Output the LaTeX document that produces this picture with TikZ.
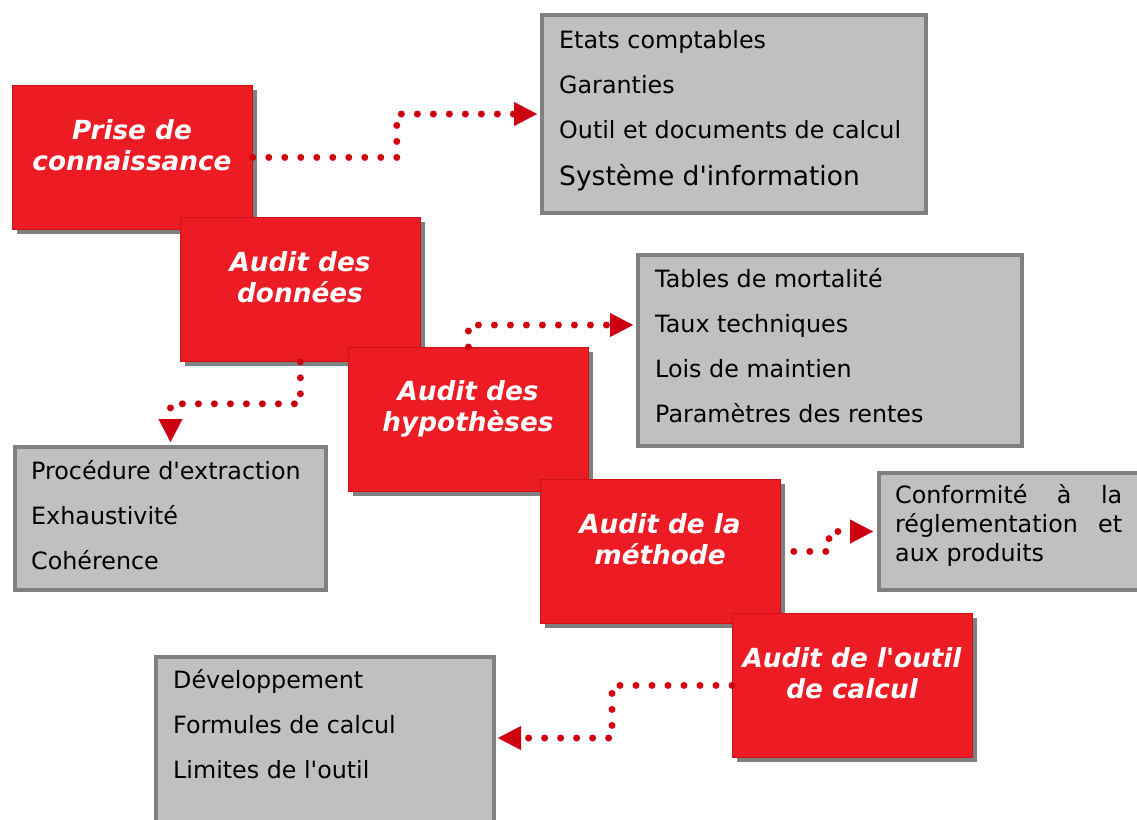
\documentclass[tikz,border=0pt]{standalone}
\usepackage{fontspec}
\setmainfont{DejaVu Sans}
\usetikzlibrary{arrows.meta,shadows}
\definecolor{boxred}{HTML}{ED1C24}
\definecolor{boxredline}{HTML}{D0101A}
\definecolor{conred}{HTML}{CC0010}
\definecolor{panelgray}{HTML}{C0C0C0}
\definecolor{panelline}{HTML}{808080}
\definecolor{shadowgray}{HTML}{808080}
\newcommand{\apo}{\textquotesingle}
\tikzset{
  redbox/.style={rectangle, anchor=north west, fill=boxred, draw=boxredline, line width=0.8pt,
    minimum width=240pt, minimum height=144pt, inner sep=0pt,
    drop shadow={shadow xshift=5pt, shadow yshift=-5pt, fill=shadowgray, opacity=1}},
  redtext/.style={anchor=base, inner sep=0pt, text=white, font=\fontsize{26.3}{31}\selectfont\bfseries\itshape},
  panel/.style={rectangle, anchor=north west, fill=panelgray, draw=panelline, line width=4pt, inner sep=0pt},
  paneltext/.style={anchor=base west, inner sep=0pt, text=black, font=\fontsize{23.8}{45}\selectfont},
  dotlink/.style={draw=conred, line width=7pt, line cap=round, dash pattern=on 0pt off 16pt,
    -{Triangle[length=23pt,width=24pt,line width=0.1pt,fill=conred]}},
}
\begin{document}
\begin{tikzpicture}[x=1pt,y=-1pt]
\useasboundingbox (0,0) rectangle (1137,819);
\clip (0,0) rectangle (1137,819);

% red step boxes
\node[redbox] (p1) at (12,85) {};
\node[redtext] (p1t) at (132,139) {\parbox[t]{236pt}{\centering Prise de\\connaissance}};
\node[redbox] (p2) at (180,217) {};
\node[redtext] (p2t) at (300,271) {\parbox[t]{236pt}{\centering Audit des\\données}};
\node[redbox] (p3) at (348,347) {};
\node[redtext] (p3t) at (468,400) {\parbox[t]{236pt}{\centering Audit des\\hypothèses}};
\node[redbox] (p4) at (540,479) {};
\node[redtext] (p4t) at (660,533) {\parbox[t]{236pt}{\centering Audit de la\\méthode}};
\node[redbox] (p5) at (732,613) {};
\node[redtext] (p5t) at (852,667) {\parbox[t]{236pt}{\centering Audit de l\apo outil\\de calcul}};

% grey panels
\node[panel, minimum width=384pt, minimum height=198pt] (pA) at (540,13) {};
\node[paneltext] (tA) at (559,48) {\parbox[t]{360pt}{\raggedright Etats comptables\\Garanties\\Outil et documents de calcul\\[2pt]{\fontsize{26.5}{45}\selectfont Système d\apo information}}};

\node[panel, minimum width=384pt, minimum height=191pt] (pB) at (636,253) {};
\node[paneltext] (tB) at (655,287) {\parbox[t]{360pt}{\raggedright Tables de mortalité\\Taux techniques\\Lois de maintien\\Paramètres des rentes}};

\node[panel, minimum width=311pt, minimum height=143pt] (pC) at (13,445) {};
\node[paneltext] (tC) at (31,479) {\parbox[t]{290pt}{\raggedright Procédure d\apo extraction\\Exhaustivité\\Cohérence}};

\node[panel, minimum width=280pt, minimum height=117pt] (pD) at (877,471) {};
\node[paneltext, font=\fontsize{23.8}{29}\selectfont] (tD) at (895,503) {\parbox[t]{227pt}{Conformité\hfill à\hfill la\\réglementation\hfill et\\aux produits}};

\node[panel, minimum width=338pt, minimum height=180pt] (pE) at (154,655) {};
\node[paneltext] (tE) at (173,688) {\parbox[t]{300pt}{\raggedright Développement\\Formules de calcul\\Limites de l\apo outil}};

% dotted connectors
\draw[dotlink] (p1.east) -- ++(144,0) |- ([xshift=-3pt]pA.west);
\draw[dotlink] (p2.south) -- ++(0,42) -| ([yshift=3pt]pC.north);
\draw[dotlink] (p3.north) |- ([shift={(-3,72)}]pB.north west);
\draw[dotlink] ([xshift=13pt]p4.east) -| ([xshift=-48pt]pD.west) -- ([xshift=-4pt]pD.west);
\draw[dotlink] (p5.west) -- ++(-120,0) |- ([shift={(2,83)}]pE.north east);
\end{tikzpicture}
\end{document}
